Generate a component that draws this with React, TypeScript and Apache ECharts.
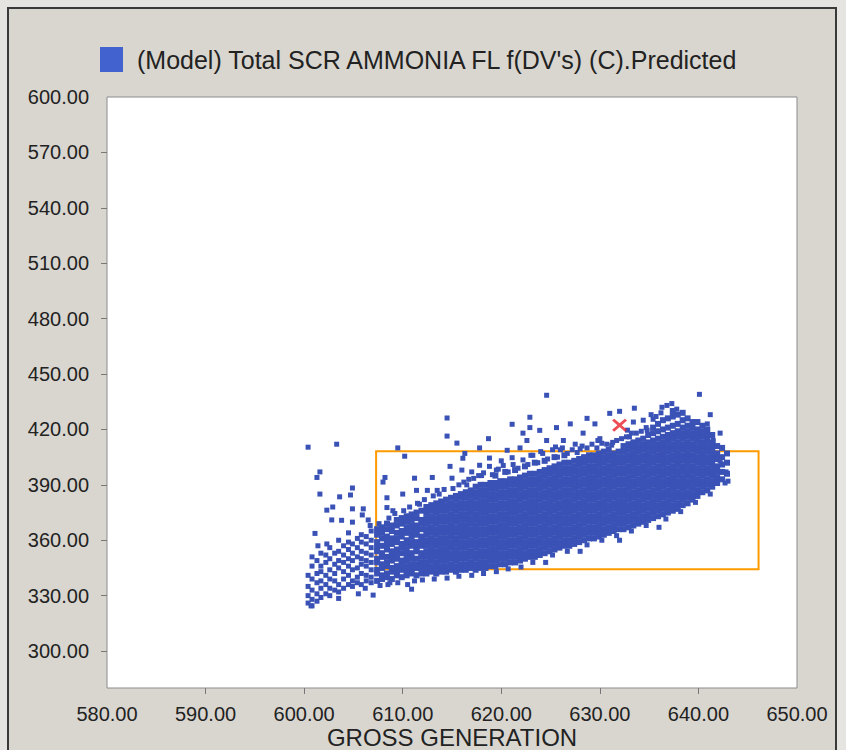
import React, { useEffect, useRef } from "react";
import * as echarts from "echarts";

const seriesName = "(Model) Total SCR AMMONIA FL f(DV's) (C).Predicted";
const xAxisName = "GROSS GENERATION";

const xLabelValues = [580, 590, 600, 610, 620, 630, 640, 650];
const xTickValues = [590, 600, 610, 620, 630, 640];
const yLabelValues = [300, 330, 360, 390, 420, 450, 480, 510, 540, 570, 600];
const yTickValues = [300, 330, 360, 390, 420, 450, 480, 510, 540, 570];

// sparse lower-left tail, read as columns: [gross generation, [predicted values...]]
const tailCols: [number, number[]][] = [
  [600.4, [326, 330, 335, 341]],
  [600.8, [324.5, 328, 333, 339, 346, 351]],
  [601.3, [327, 331, 337, 342, 349]],
  [601.7, [329, 334, 338, 343, 346, 353]],
  [602.2, [331, 336, 341, 348, 352]],
  [602.6, [330, 334, 339, 344, 350, 356]],
  [603.1, [333, 338, 342, 347, 353]],
  [603.5, [332, 336, 345, 349, 354, 360]],
  [604.0, [334, 339, 343, 348, 352, 357]],
  [604.5, [336, 341, 346, 350, 355, 359, 364]],
  [604.9, [335, 338, 344, 349, 353, 358]],
  [605.4, [337, 340, 345, 351, 356, 361]],
  [605.8, [336, 342, 347, 350, 354, 359, 363]],
  [606.3, [338, 341, 346, 349, 353, 358, 362]],
  [606.8, [337, 340, 344, 348, 352, 356, 360, 365]],
];

// body left of 612
const lowMidCols: [number, number[]][] = [
  [607.4, [338, 342, 344, 348, 350, 354, 356, 359, 363, 366]],
  [607.9, [339, 341, 345, 347, 351, 353, 357, 361, 364, 367]],
  [608.4, [340, 342, 346, 348, 351, 355, 357, 360, 362, 366, 369]],
  [608.9, [339, 343, 345, 349, 352, 354, 358, 361, 365, 368]],
  [609.4, [341, 343, 346, 350, 352, 355, 359, 361, 364, 368, 371]],
  [609.9, [340, 344, 347, 349, 353, 356, 358, 362, 365, 369, 372]],
  [610.4, [341, 343, 346, 349, 352, 355, 358, 360, 364, 367, 370, 373]],
  [610.9, [342, 344, 347, 350, 353, 357, 359, 362, 365, 368, 371, 374]],
  [611.4, [341, 345, 347, 350, 354, 356, 359, 363, 365, 368, 372, 375]],
  [611.9, [342, 345, 348, 351, 353, 357, 360, 362, 366, 369, 371, 376]],
];

// dense body of the cloud
const midCols: [number, number[]][] = [
  [612.4, [342, 345, 348, 351, 354, 357, 360, 363, 366, 369, 372, 375, 378]],
  [612.9, [343, 346, 349, 352, 355, 358, 361, 364, 367, 370, 373, 376, 379]],
  [613.4, [342, 345, 348, 351, 354, 357, 360, 363, 366, 369, 372, 375, 378, 380]],
  [613.9, [343, 346, 349, 352, 355, 358, 361, 364, 367, 370, 373, 376, 379, 381]],
  [614.4, [343, 346, 349, 352, 355, 358, 361, 364, 367, 370, 373, 376, 379, 382]],
  [614.9, [344, 347, 350, 353, 356, 359, 362, 365, 368, 371, 374, 377, 380, 383]],
  [615.4, [343, 346, 349, 352, 355, 358, 361, 364, 367, 370, 373, 376, 379, 382, 384]],
  [615.9, [344, 347, 350, 353, 356, 359, 362, 365, 368, 371, 374, 377, 380, 383, 385]],
  [616.4, [344, 347, 350, 353, 356, 359, 362, 365, 368, 371, 374, 377, 380, 383, 386]],
  [616.9, [345, 348, 351, 354, 357, 360, 363, 366, 369, 372, 375, 378, 381, 384, 387]],
  [617.4, [344, 347, 350, 353, 356, 359, 362, 365, 368, 371, 374, 377, 380, 383, 386, 389]],
  [617.9, [345, 348, 351, 354, 357, 360, 363, 366, 369, 372, 375, 378, 381, 384, 387, 390]],
  [618.4, [345, 348, 351, 354, 357, 360, 363, 366, 369, 372, 375, 378, 381, 384, 387, 390]],
  [618.9, [346, 349, 352, 355, 358, 361, 364, 367, 370, 373, 376, 379, 382, 385, 388, 391]],
  [619.4, [346, 349, 352, 355, 358, 361, 364, 367, 370, 373, 376, 379, 382, 385, 388, 391, 395]],
  [619.9, [347, 350, 353, 356, 359, 362, 365, 368, 371, 374, 377, 380, 383, 386, 389, 392]],
  [620.4, [347, 350, 353, 356, 359, 362, 365, 368, 371, 374, 377, 380, 383, 386, 389, 392, 397]],
  [620.9, [348, 351, 354, 357, 360, 363, 366, 369, 372, 375, 378, 381, 384, 387, 390, 393]],
  [621.4, [348, 351, 354, 357, 360, 363, 366, 369, 372, 375, 378, 381, 384, 387, 390, 393, 398]],
  [621.9, [349, 352, 355, 358, 361, 364, 367, 370, 373, 376, 379, 382, 385, 388, 391, 394]],
  [622.4, [350, 353, 356, 359, 362, 365, 368, 371, 374, 377, 380, 383, 386, 389, 392, 395, 400]],
  [622.9, [351, 354, 357, 360, 363, 366, 369, 372, 375, 378, 381, 384, 387, 390, 393, 396]],
  [623.4, [351, 354, 357, 360, 363, 366, 369, 372, 375, 378, 381, 384, 387, 390, 393, 396, 402]],
  [623.9, [352, 355, 358, 361, 364, 367, 370, 373, 376, 379, 382, 385, 388, 391, 394, 397]],
  [624.4, [353, 356, 359, 362, 365, 368, 371, 374, 377, 380, 383, 386, 389, 392, 395, 398, 403]],
  [624.9, [354, 357, 360, 363, 366, 369, 372, 375, 378, 381, 384, 387, 390, 393, 396, 399]],
];

const headCols: [number, number[]][] = [
  [625.4, [355, 358, 361, 364, 367, 370, 373, 376, 379, 382, 385, 388, 391, 394, 397, 400, 405]],
  [625.9, [356, 359, 362, 365, 368, 371, 374, 377, 380, 383, 386, 389, 392, 395, 398, 401]],
  [626.4, [357, 360, 363, 366, 369, 372, 375, 378, 381, 384, 387, 390, 393, 396, 399, 402, 406]],
  [626.9, [357, 360, 363, 366, 369, 372, 375, 378, 381, 384, 387, 390, 393, 396, 399, 402]],
  [627.4, [358, 361, 364, 367, 370, 373, 376, 379, 382, 385, 388, 391, 394, 397, 400, 403]],
  [627.9, [359, 362, 365, 368, 371, 374, 377, 380, 383, 386, 389, 392, 395, 398, 401, 404]],
  [628.4, [360, 363, 366, 369, 372, 375, 378, 381, 384, 387, 390, 393, 396, 399, 402, 405]],
  [628.9, [361, 364, 367, 370, 373, 376, 379, 382, 385, 388, 391, 394, 397, 400, 403, 406]],
  [629.4, [361, 364, 367, 370, 373, 376, 379, 382, 385, 388, 391, 394, 397, 400, 403, 406]],
  [629.9, [362, 365, 368, 371, 374, 377, 380, 383, 386, 389, 392, 395, 398, 401, 404, 407]],
  [630.4, [363, 366, 369, 372, 375, 378, 381, 384, 387, 390, 393, 396, 399, 402, 405, 408]],
  [630.9, [364, 367, 370, 373, 376, 379, 382, 385, 388, 391, 394, 397, 400, 403, 406, 409]],
  [631.4, [365, 368, 371, 374, 377, 380, 383, 386, 389, 392, 395, 398, 401, 404, 407]],
  [631.9, [366, 369, 372, 375, 378, 381, 384, 387, 390, 393, 396, 399, 402, 405, 408]],
  [632.4, [366, 369, 372, 375, 378, 381, 384, 387, 390, 393, 396, 399, 402, 405, 408, 411]],
  [632.9, [367, 370, 373, 376, 379, 382, 385, 388, 391, 394, 397, 400, 403, 406, 409, 412]],
  [633.4, [368, 371, 374, 377, 380, 383, 386, 389, 392, 395, 398, 401, 404, 407, 410, 413]],
  [633.9, [369, 372, 375, 378, 381, 384, 387, 390, 393, 396, 399, 402, 405, 408, 411, 414]],
  [634.4, [370, 373, 376, 379, 382, 385, 388, 391, 394, 397, 400, 403, 406, 409, 412, 415]],
  [634.9, [371, 374, 377, 380, 383, 386, 389, 392, 395, 398, 401, 404, 407, 410, 413, 417]],
  [635.4, [372, 375, 378, 381, 384, 387, 390, 393, 396, 399, 402, 405, 408, 411, 414, 418, 421]],
  [635.9, [373, 376, 379, 382, 385, 388, 391, 394, 397, 400, 403, 406, 409, 412, 415, 419, 423]],
  [636.4, [374, 377, 380, 383, 386, 389, 392, 395, 398, 401, 404, 407, 410, 413, 416, 420, 425]],
  [636.9, [375, 378, 381, 384, 387, 390, 393, 396, 399, 402, 405, 408, 411, 414, 417, 421, 426]],
  [637.4, [376, 379, 382, 385, 388, 391, 394, 397, 400, 403, 406, 409, 412, 415, 418, 422, 427, 430]],
  [637.9, [377, 380, 383, 386, 389, 392, 395, 398, 401, 404, 407, 410, 413, 416, 419, 423, 428]],
  [638.4, [379, 382, 385, 388, 391, 394, 397, 400, 403, 406, 409, 412, 415, 418, 421, 425, 429]],
  [638.9, [380, 383, 386, 389, 392, 395, 398, 401, 404, 407, 410, 413, 416, 419, 422, 426]],
  [639.4, [382, 385, 388, 391, 394, 397, 400, 403, 406, 409, 412, 415, 418, 421, 424]],
  [639.9, [384, 387, 390, 393, 396, 399, 402, 405, 408, 411, 414, 417, 420, 424]],
  [640.4, [386, 389, 392, 395, 398, 401, 404, 407, 410, 413, 416, 419, 422]],
  [640.9, [387, 390, 393, 396, 399, 402, 405, 408, 411, 414, 417, 420]],
  [641.4, [389, 392, 395, 398, 401, 404, 407, 410, 413, 417]],
  [641.9, [391, 394, 397, 400, 404, 407, 411]],
  [642.4, [393, 397, 401, 405, 410]],
  [642.9, [396, 402, 407]],
];

// scattered points around the cloud: [gross generation, predicted]
const fringePoints: [number, number][] = [
  [600.4, 410.4], [603.3, 412], [601.6, 397], [601.3, 394], [601.6, 385], [603.6, 383.5],
  [604.9, 388.3], [604.7, 384.5], [602.3, 376.3], [602.8, 371], [602.9, 378], [604.9, 377],
  [606, 377], [601.1, 363.7], [604.9, 369.8], [605.9, 373.7], [606.7, 368], [603.8, 370.8],
  [602.3, 358], [601.4, 357], [600.7, 324.5], [607, 330.3], [610.9, 333.5], [608.5, 336],
  [605.5, 331], [603.5, 328.5], [609.5, 337], [612, 338.5], [614.5, 339.5], [617, 341],
  [619.5, 343], [622, 345.5], [624.5, 348], [628, 354], [632, 360], [636, 367], [610.5, 336],
  [608.2, 394], [608, 391.5], [608.4, 383], [608.4, 377.7], [609.5, 410], [610.2, 405.5],
  [611.4, 387], [611.2, 393.6], [612.5, 387], [613.5, 387], [613, 394], [614.8, 400],
  [616.1, 404.4], [617, 397], [614.5, 426.2], [614.5, 416.4], [615.5, 412.6], [616.3, 407],
  [617.8, 410], [617.8, 400.6], [618.7, 415], [618.8, 404.5], [618.8, 400], [620.6, 408.7],
  [621.1, 422.8], [621.1, 404.7], [621.9, 410], [622.2, 418], [622.6, 414], [622.9, 421],
  [622.9, 426.6], [623.9, 419.5], [624.6, 438.5], [624.6, 414], [625.6, 421], [626.3, 414],
  [627, 423], [628.3, 418], [628.7, 426], [629.5, 423], [629.8, 414], [631, 428.7],
  [631.3, 413], [632, 429.8], [632.8, 419.6], [633.4, 424], [633.5, 431.5], [634.4, 425],
  [634.8, 419.6], [635.4, 425.5], [636.3, 432], [636.8, 433], [637.3, 434], [637.8, 431],
  [640.1, 439], [641.2, 428], [642.2, 418], [640.9, 423], [641.5, 414], [642.2, 403],
  [641.7, 398], [643, 392], [642.8, 397], [615, 393.6], [616, 398], [619.5, 398], [620, 403],
  [623, 406], [626, 409], [627.5, 412], [630, 415], [611.5, 380], [610, 385], [609, 376],
  [606.5, 371], [616.5, 390], [618, 395], [624, 408], [628, 409.5], [633, 416], [625.5, 410.5],
  [607.6, 369], [608.6, 372], [609.2, 374.5], [610.1, 376], [610.7, 378], [611.7, 379.5],
  [612.2, 382], [613.1, 384], [613.7, 385], [614.2, 387.5], [615.1, 388], [615.7, 390],
  [616.2, 391.5], [616.7, 393], [617.2, 393.5], [617.7, 395], [618.2, 396.5], [619.1, 395.5],
  [619.7, 398.5], [620.2, 400.5], [620.7, 397], [621.2, 401], [621.7, 399], [622.2, 403.5],
  [622.7, 401], [623.2, 406], [623.7, 402], [624.2, 407], [624.7, 404], [625.2, 409],
  [625.7, 405], [626.2, 410], [626.7, 407], [627.2, 409], [627.7, 407.5], [628.2, 411],
  [628.7, 410], [629.2, 412], [629.7, 410], [630.2, 412.5], [630.7, 412], [631.2, 411.5],
  [631.7, 414], [632.2, 415], [632.7, 416], [633.2, 418], [633.7, 418], [634.2, 419],
  [634.7, 421], [635.2, 428], [635.7, 427], [636.2, 429],
  [606.2, 334], [607.7, 335.5], [608.7, 337], [611.2, 338], [613.2, 339], [615.7, 340.5],
  [618.2, 342], [620.7, 344.5], [623.2, 348], [625.2, 352], [626.7, 354], [628.7, 357.5],
  [630.2, 360], [631.7, 362.5], [633.2, 365], [634.7, 368], [636.7, 371.5], [638.2, 375.5],
  [639.7, 380.5], [641.2, 385], [642.7, 391],
];

const predictedMarker: [number, number][] = [[632.0, 422.3]];
const boxX = [607.3, 646.1];
const boxY = [408.2, 344.3];

const toPoints = (cols: [number, number[]][]) =>
  cols.flatMap(([x, ys]) => ys.map((y) => [x, y]));
const cloudBody = toPoints([...lowMidCols, ...midCols, ...headCols]);
const cloudSparse = [...toPoints(tailCols), ...fringePoints];

const FONT = "'Liberation Sans', Arial, sans-serif";
const POINT_COLOR = "#3a52b6";

export default function App() {
  const ref = useRef<HTMLDivElement>(null);
  useEffect(() => {
    if (!ref.current) return;
    const chart = echarts.init(ref.current, undefined, { renderer: "svg" });
    chart.setOption({
      animation: false,
      backgroundColor: "#e6e4e0",
      textStyle: { fontFamily: FONT },
      graphic: [
        {
          type: "rect",
          z: -10,
          silent: true,
          shape: { x: 8, y: 8, width: 828, height: 800 },
          style: { fill: "#d9d6d0", stroke: "#3a3a3a", lineWidth: 2 },
        },
      ],
      legend: {
        left: 100,
        top: 47,
        padding: 0,
        itemWidth: 23,
        itemHeight: 25,
        icon: "rect",
        data: [{ name: seriesName, itemStyle: { color: "#4262d0" } }],
        textStyle: { fontSize: 25, color: "#222", fontFamily: FONT, padding: [0, 0, 0, 9] },
      },
      grid: {
        left: 107,
        right: 49,
        top: 97,
        bottom: 62,
        outerBoundsMode: "none",
        containLabel: false,
        show: true,
        backgroundColor: "#ffffff",
        borderColor: "#8c8c8c",
        borderWidth: 1,
      },
      xAxis: {
        type: "value",
        min: 580,
        max: 650,
        interval: 10,
        name: xAxisName,
        nameLocation: "middle",
        nameGap: 37,
        nameMoveOverlap: false,
        nameTextStyle: {
          fontSize: 24,
          color: "#222",
          fontFamily: FONT,
          lineHeight: 24,
          verticalAlign: "top",
        },
        axisLine: { show: false },
        splitLine: { show: false },
        axisTick: { show: true, length: 6, lineStyle: { color: "#777" }, customValues: xTickValues },
        axisLabel: {
          customValues: xLabelValues,
          fontSize: 20,
          lineHeight: 20,
          color: "#222",
          margin: 16,
          fontFamily: FONT,
          formatter: (v: number) => v.toFixed(2),
        },
      },
      yAxis: {
        type: "value",
        min: 280,
        max: 600,
        axisLine: { show: false },
        splitLine: { show: false },
        axisTick: { show: true, length: 6, lineStyle: { color: "#777" }, customValues: yTickValues },
        axisLabel: {
          customValues: yLabelValues,
          fontSize: 20,
          color: "#222",
          margin: 18,
          fontFamily: FONT,
          formatter: (v: number) => v.toFixed(2),
        },
      },
      series: [
        {
          name: seriesName,
          type: "scatter",
          symbol: "rect",
          symbolSize: 6,
          itemStyle: { color: POINT_COLOR, opacity: 1 },
          data: cloudBody,
          markArea: {
            silent: true,
            label: { show: false },
            itemStyle: { color: "rgba(0,0,0,0)", borderColor: "#ff9a00", borderWidth: 2 },
            data: [[{ xAxis: boxX[0], yAxis: boxY[0] }, { xAxis: boxX[1], yAxis: boxY[1] }]],
          },
        },
        {
          name: seriesName,
          type: "scatter",
          symbol: "rect",
          symbolSize: 5,
          itemStyle: { color: POINT_COLOR, opacity: 1 },
          data: cloudSparse,
        },
        {
          name: "marker",
          type: "scatter",
          symbol: "path://M2,0 L7,5 L12,0 L14,2 L9,7 L14,12 L12,14 L7,9 L2,14 L0,12 L5,7 L0,2 Z",
          symbolSize: [15, 13],
          itemStyle: { color: "#e8202a" },
          data: predictedMarker,
          z: 5,
        },
      ],
    });
    return () => chart.dispose();
  }, []);
  return (
    <div
      ref={ref}
      style={{ position: "fixed", left: 0, top: 0, width: 846, height: 750 }}
    />
  );
}
